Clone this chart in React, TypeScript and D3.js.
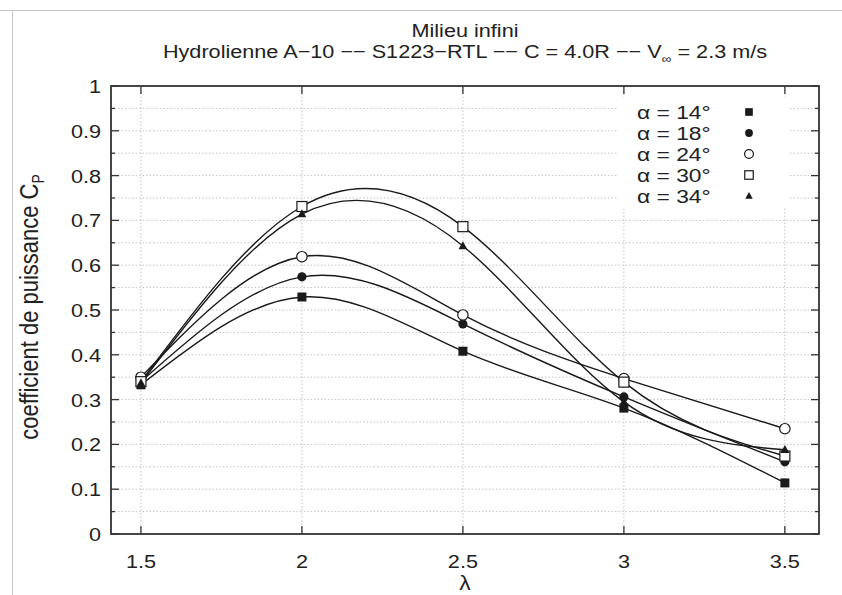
import React from "react";
import * as d3 from "d3";

const lambdas = [1.5, 2, 2.5, 3, 3.5];
const cp14 = [0.333, 0.529, 0.408, 0.281, 0.114];
const cp18 = [0.34, 0.574, 0.469, 0.306, 0.161];
const cp24 = [0.35, 0.619, 0.489, 0.347, 0.235];
const cp30 = [0.34, 0.731, 0.686, 0.339, 0.174];
const cp34 = [0.337, 0.714, 0.643, 0.295, 0.188];
const seriesLabels = ["α = 14°", "α = 18°", "α = 24°", "α = 30°", "α = 34°"];
const markerKinds = ["fsquare", "fcircle", "ocircle", "osquare", "ftriangle"];
const xTicks = [1.5, 2, 2.5, 3, 3.5];
const xTickLabels = ["1.5", "2", "2.5", "3", "3.5"];
const yTicks = [0, 0.1, 0.2, 0.3, 0.4, 0.5, 0.6, 0.7, 0.8, 0.9, 1];
const yTickLabels = ["0", "0.1", "0.2", "0.3", "0.4", "0.5", "0.6", "0.7", "0.8", "0.9", "1"];
const yMinor = [0.05, 0.15, 0.25, 0.35, 0.45, 0.55, 0.65, 0.75, 0.85, 0.95];

const W = 842, H = 595;
const L = 111, R = 819, T = 86, B = 534;
const FONT = "'Liberation Sans', Arial, Helvetica, sans-serif";
const INK = "#1a1a1a";
const AXIS = "#333";
const SX = 1.14;

function SText({ x, y, anchor = "start", size = 19, sx = SX, dy, children }: any) {
  return (
    <text transform={`translate(${x},${y}) scale(${sx},1)`} textAnchor={anchor} fontSize={size} dy={dy} fill="#222">
      {children}
    </text>
  );
}

function Marker({ kind, x, y, s = 1 }: { kind: string; x: number; y: number; s?: number }) {
  if (kind === "fsquare") return <rect x={x - 4.5 * s} y={y - 4.5 * s} width={9 * s} height={9 * s} fill={INK} />;
  if (kind === "fcircle") return <circle cx={x} cy={y} r={4.6 * s} fill={INK} />;
  if (kind === "ocircle") return <circle cx={x} cy={y} r={5.2 * s} fill="#fff" stroke={INK} strokeWidth={1.2} />;
  if (kind === "osquare") return <rect x={x - 5 * s} y={y - 5 * s} width={10 * s} height={10 * s} fill="#fff" stroke={INK} strokeWidth={1.2} />;
  const h = 8 * s;
  return <path d={`M${x},${y - h * 0.6} L${x + h * 0.55},${y + h * 0.4} L${x - h * 0.55},${y + h * 0.4} Z`} fill={INK} />;
}

export default function App() {
  const x = d3.scaleLinear().domain([1.407, 3.606]).range([L, R]);
  const y = d3.scaleLinear().domain([0, 1]).range([B, T]);
  const series = [cp14, cp18, cp24, cp30, cp34];
  const line = d3
    .line<[number, number]>()
    .x((d) => x(d[0]))
    .y((d) => y(d[1]))
    .curve(d3.curveNatural);

  const gridY = [...yTicks.slice(1, -1), ...yMinor];
  const legX = 637, legSymX = 749, legY0 = 112, legStep = 21;

  return (
    <svg width={W} height={H} style={{ position: "absolute", left: 0, top: 0, background: "#fff" }} fontFamily={FONT}>
      <rect x={0} y={0} width={W} height={H} fill="#fff" />
      <line x1={0} x2={W} y1={10.5} y2={10.5} stroke="#c8c8c8" strokeWidth={1} />
      <line x1={12.5} x2={12.5} y1={10} y2={H} stroke="#c8c8c8" strokeWidth={1} />

      {/* grid */}
      {gridY.map((v, i) => (
        <line key={"gy" + i} x1={L} x2={R} y1={y(v)} y2={y(v)} stroke="#c4c4c4" strokeWidth={1} strokeDasharray="1.5,2" />
      ))}
      {xTicks.map((v, i) => (
        <line key={"gx" + i} x1={x(v)} x2={x(v)} y1={T} y2={B} stroke="#c4c4c4" strokeWidth={1} strokeDasharray="1.5,2" />
      ))}

      {/* legend background */}
      <rect x={617} y={97} width={173} height={110} fill="#fff" />

      {/* axes frame and ticks */}
      {yTicks.map((v, i) => (
        <g key={"yt" + i}>
          <line x1={L} x2={L + 8} y1={y(v)} y2={y(v)} stroke={AXIS} strokeWidth={1.3} />
          <line x1={R} x2={R - 8} y1={y(v)} y2={y(v)} stroke={AXIS} strokeWidth={1.3} />
          <SText x={101} y={y(v) + 7} anchor="end">
            {yTickLabels[i]}
          </SText>
        </g>
      ))}
      {yMinor.map((v, i) => (
        <g key={"ym" + i}>
          <line x1={L} x2={L + 4} y1={y(v)} y2={y(v)} stroke={AXIS} strokeWidth={1.3} />
          <line x1={R} x2={R - 4} y1={y(v)} y2={y(v)} stroke={AXIS} strokeWidth={1.3} />
        </g>
      ))}
      {xTicks.map((v, i) => (
        <g key={"xt" + i}>
          <line x1={x(v)} x2={x(v)} y1={B} y2={B - 8} stroke={AXIS} strokeWidth={1.3} />
          <line x1={x(v)} x2={x(v)} y1={T} y2={T + 8} stroke={AXIS} strokeWidth={1.3} />
          <SText x={x(v)} y={568} anchor="middle">
            {xTickLabels[i]}
          </SText>
        </g>
      ))}
      <rect x={L} y={T} width={R - L} height={B - T} fill="none" stroke={AXIS} strokeWidth={1.8} />

      {/* curves */}
      {series.map((s, k) => (
        <path
          key={"c" + k}
          d={line(lambdas.map((l, i) => [l, s[i]] as [number, number])) || ""}
          fill="none"
          stroke={INK}
          strokeWidth={1.4}
        />
      ))}
      {series.map((s, k) => (
        <g key={"m" + k}>
          {lambdas.map((l, i) => (
            <Marker key={i} kind={markerKinds[k]} x={x(l)} y={y(s[i])} />
          ))}
        </g>
      ))}

      {/* legend */}
      {seriesLabels.map((lab, k) => (
        <g key={"lg" + k}>
          <SText x={legX} y={legY0 + k * legStep + 7} sx={1.2}>
            {lab}
          </SText>
          <Marker kind={markerKinds[k]} x={legSymX} y={legY0 + k * legStep} s={0.85} />
        </g>
      ))}

      {/* titles */}
      <SText x={465} y={37} anchor="middle">
        Milieu infini
      </SText>
      <SText x={465} y={58} anchor="middle">
        Hydrolienne A−10 −− S1223−RTL −− C = 4.0R −− V
        <tspan fontSize={12} dy={5}>∞</tspan>
        <tspan dy={-5}> = 2.3 m/s</tspan>
      </SText>
      <text transform={`translate(38,307) rotate(-90) scale(1,${SX})`} textAnchor="middle" fontSize={22} fill="#222">
        coefficient de puissance C
        <tspan fontSize={14} dy={5}>P</tspan>
      </text>
      <SText x={465} y={590} anchor="middle" size={20}>
        λ
      </SText>
    </svg>
  );
}
